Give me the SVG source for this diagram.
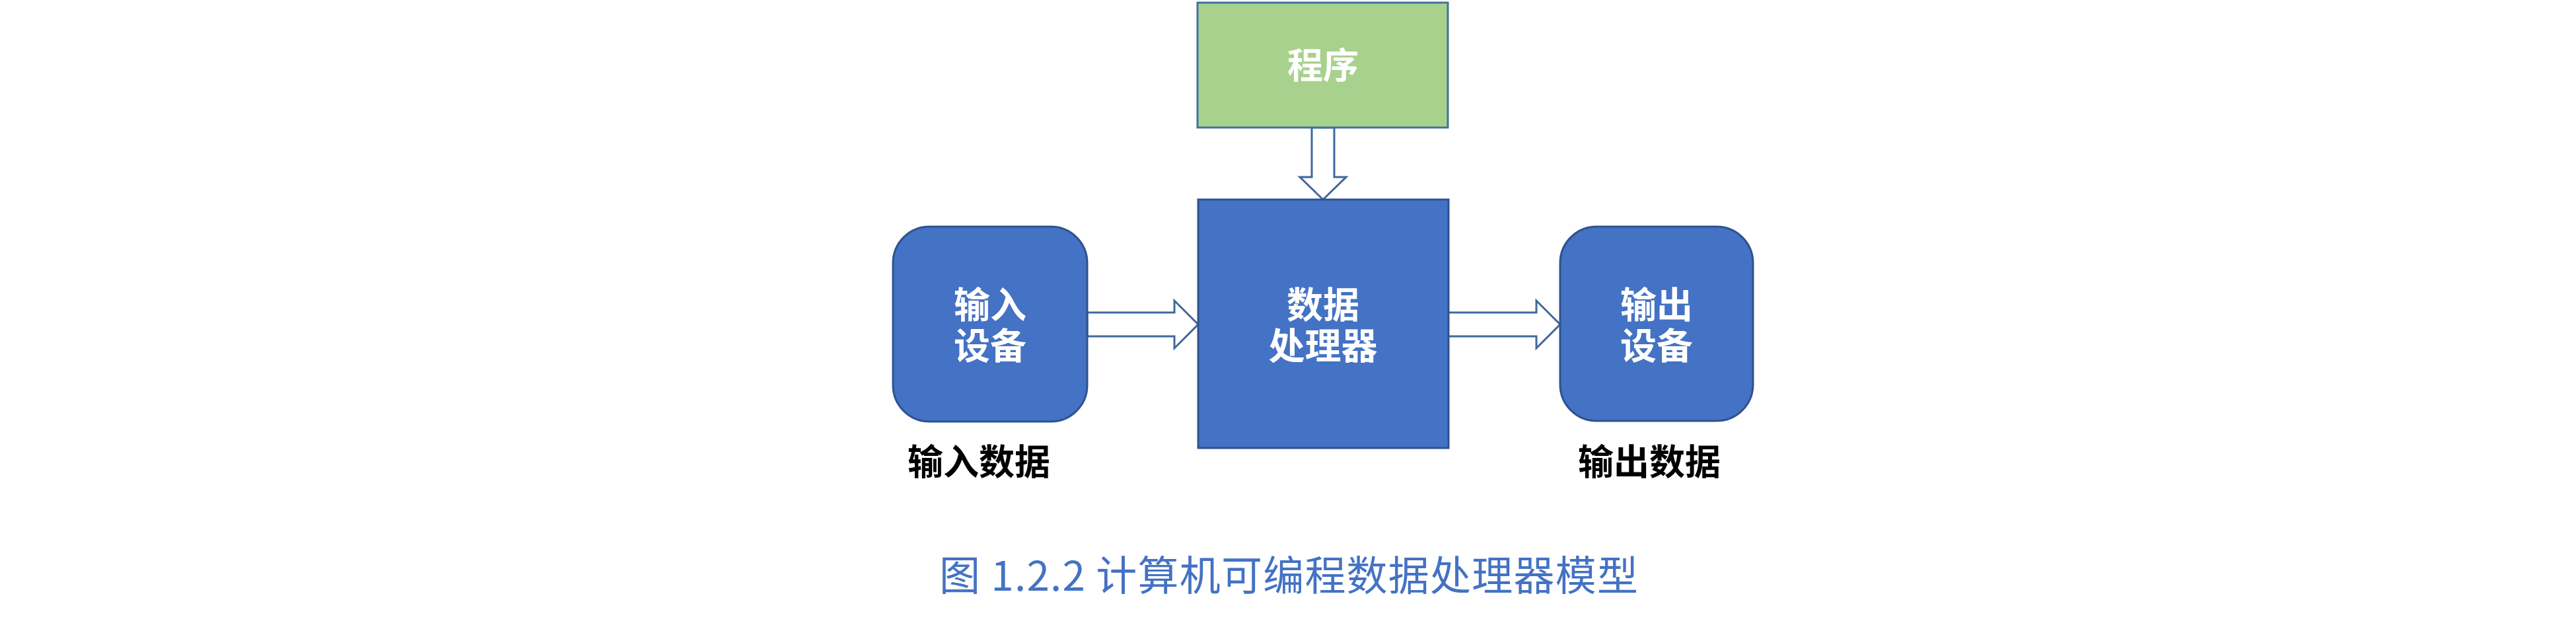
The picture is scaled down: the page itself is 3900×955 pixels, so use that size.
<svg xmlns="http://www.w3.org/2000/svg" width="3900" height="955" viewBox="0 0 3900 955">
<style>
.box{fill:#4472C4;stroke:#2F528F;stroke-width:3}
.prog{fill:#A9D18E;stroke:#41719C;stroke-width:3}
.arrow{fill:#FFFFFF;stroke:#41679E;stroke-width:3;stroke-linejoin:miter}
.in{font-family:"Noto Sans CJK SC","Noto Sans",sans-serif;font-weight:bold;fill:#FFFFFF;text-anchor:middle}
.lbl{font-family:"Noto Sans CJK SC","Noto Sans",sans-serif;font-weight:bold;fill:#000000;text-anchor:middle;font-size:54px}
.cap{font-family:"Noto Sans CJK SC","Noto Sans",sans-serif;fill:#4472C4;font-size:62px}
</style>
<rect x="0" y="0" width="3900" height="955" fill="#FFFFFF"/>
<g id="connectors">
<polygon class="arrow" points="1986,193 2020,193 2020,268 2038,268 2003,302 1968,268 1986,268"/>
<polygon class="arrow" points="1646,473 1778,473 1778,455 1814,491 1778,527 1778,509 1646,509"/>
<polygon class="arrow" points="2192,473 2326,473 2326,455 2362,491 2326,527 2326,509 2192,509"/>
</g>
<g id="program">
<rect class="prog" x="1813" y="4" width="379" height="189"/>
<text class="in" x="2003" y="119" font-size="54">程序</text>
</g>
<g id="processor">
<rect class="box" x="1814" y="302" width="379" height="376"/>
<text class="in" font-size="55"><tspan x="2003" y="481">数据</tspan><tspan x="2003" y="543">处理器</tspan></text>
</g>
<g id="input">
<rect class="box" x="1352" y="343" width="294" height="295" rx="55" ry="55"/>
<text class="in" font-size="55"><tspan x="1499" y="481">输入</tspan><tspan x="1499" y="543">设备</tspan></text>
</g>
<g id="output">
<rect class="box" x="2362" y="343" width="292" height="294" rx="55" ry="55"/>
<text class="in" font-size="55"><tspan x="2508" y="481">输出</tspan><tspan x="2508" y="543">设备</tspan></text>
</g>
<g id="labels">
<text class="lbl" x="1482" y="719">输入数据</text>
<text class="lbl" x="2497" y="719">输出数据</text>
</g>
<g id="caption">
<text class="cap" x="1422" y="894" textLength="1058" lengthAdjust="spacing">图 1.2.2 计算机可编程数据处理器模型</text>
</g>
</svg>
